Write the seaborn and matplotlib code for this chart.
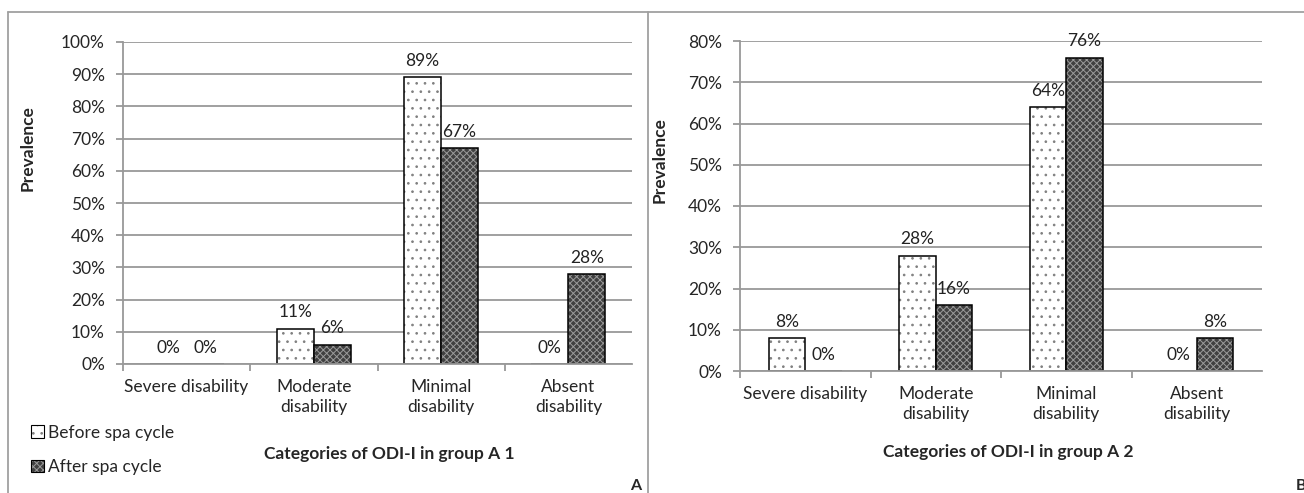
import pandas as pd
import seaborn as sns
import matplotlib.pyplot as plt
from matplotlib.patches import Patch
from matplotlib.ticker import FuncFormatter
from matplotlib.lines import Line2D

# Datos
categorias = ["Severe disability", "Moderate\ndisability", "Minimal\ndisability", "Absent\ndisability"]
series = ["Before spa cycle", "After spa cycle"]
a1_antes = [0, 11, 89, 0]
a1_despues = [0, 6, 67, 28]
a2_antes = [8, 28, 64, 0]
a2_despues = [0, 16, 76, 8]

sns.set_style("white")
plt.rcParams['font.family'] = ['Lato', 'DejaVu Sans']
plt.rcParams['hatch.linewidth'] = 0.7

GRIS = '#999999'
estilos = {
    "Before spa cycle": dict(face='white', hatch='..', hcolor='#808080'),
    "After spa cycle": dict(face='#404040', hatch='xxxxx', hcolor='#9a9a9a'),
}


def tabla(antes, despues):
    return pd.DataFrame({
        "Categoria": categorias * 2,
        "Serie": [series[0]] * 4 + [series[1]] * 4,
        "Valor": antes + despues,
    })


def aplicar_estilo(p, serie):
    e = estilos[serie]
    p.set_facecolor(e['face'])
    p.set_edgecolor('black')
    p.set_linewidth(1.1)
    p.set_hatch(e['hatch'])
    try:
        p.set_hatchcolor(e['hcolor'])
    except AttributeError:
        p._hatch_color = plt.matplotlib.colors.to_rgba(e['hcolor'])
    p.stale = True


def dibujar(ax, df, ymax, ancho):
    sns.barplot(data=df, x="Categoria", y="Valor", hue="Serie", hue_order=series,
                order=categorias, width=ancho, gap=0, legend=False, ax=ax)
    for cont, serie in zip(ax.containers, series):
        for p in cont:
            aplicar_estilo(p, serie)
        ax.bar_label(cont, labels=[f"{v:.0f}%" for v in cont.datavalues],
                     padding=6, fontsize=12.5, color='#222222')
    ax.set_ylim(0, ymax)
    ax.set_xlim(-0.5, 3.5)
    ax.set_yticks(range(0, ymax + 1, 10))
    ax.yaxis.set_major_formatter(FuncFormatter(lambda v, _: f"{v:.0f}%"))
    ax.grid(axis='y', color=GRIS, lw=1.3)
    ax.set_axisbelow(True)
    for s in ['top', 'right']:
        ax.spines[s].set_visible(False)
    for s in ['left', 'bottom']:
        ax.spines[s].set_color(GRIS)
        ax.spines[s].set_linewidth(1.3)
    ax.tick_params(axis='y', left=True, length=5, width=1.3, color=GRIS, pad=8, labelsize=12.5)
    ax.tick_params(axis='x', which='major', length=0, pad=11, labelsize=12.5)
    ax.set_xticks([-0.5, 0.5, 1.5, 2.5], minor=True)
    ax.tick_params(axis='x', which='minor', bottom=True, length=5, width=1.3, color=GRIS)
    for t in ax.get_xticklabels():
        t.set_linespacing(1.3)
    ax.set_xlabel("")
    ax.set_ylabel("")


fig = plt.figure(figsize=(13.04, 4.93), dpi=100)
W, H = 1304, 493

ax1 = fig.add_axes([123 / W, 1 - 364 / H, 509 / W, 322 / H])
ax2 = fig.add_axes([740 / W, 1 - 371 / H, 522 / W, 330 / H])

dibujar(ax1, tabla(a1_antes, a1_despues), 100, 0.58)
dibujar(ax2, tabla(a2_antes, a2_despues), 80, 0.56)

# Marcos de los paneles
yt = 1 - 12 / H
for xs, ys in [([8 / W, 8 / W], [0, yt]), ([8 / W, 1], [yt, yt]), ([648 / W, 648 / W], [0, yt])]:
    fig.add_artist(Line2D(xs, ys, color='#a0a0a0', lw=1.3))

# Títulos de ejes
fig.text(28 / W, 1 - 148 / H, "Prevalence", rotation=90, ha='center', va='center',
         fontsize=12.5, fontweight='bold')
fig.text(660 / W, 1 - 160 / H, "Prevalence", rotation=90, ha='center', va='center',
         fontsize=12.5, fontweight='bold')
fig.text(389 / W, 1 - 454 / H, "Categories of ODI-I in group A 1", ha='center', va='center',
         fontsize=12.5, fontweight='bold')
fig.text(1008 / W, 1 - 452 / H, "Categories of ODI-I in group A 2", ha='center', va='center',
         fontsize=12.5, fontweight='bold')
fig.text(636 / W, 1 - 486 / H, "A", ha='center', va='center', fontsize=11.5, fontweight='bold')
fig.text(1296 / W, 1 - 486 / H, "B", ha='left', va='center', fontsize=11.5, fontweight='bold')

# Leyenda
manejadores = []
for serie in series:
    p = Patch(label=serie)
    aplicar_estilo(p, serie)
    p.set_linewidth(0.8)
    manejadores.append(p)
fig.legend(handles=manejadores, loc='center left', bbox_to_anchor=(22 / W, 1 - 450 / H),
           frameon=False, fontsize=12.5, handlelength=0.75, handleheight=0.75,
           handletextpad=0.25, labelspacing=1.05, borderpad=0)

plt.savefig('out.png', dpi=100)
